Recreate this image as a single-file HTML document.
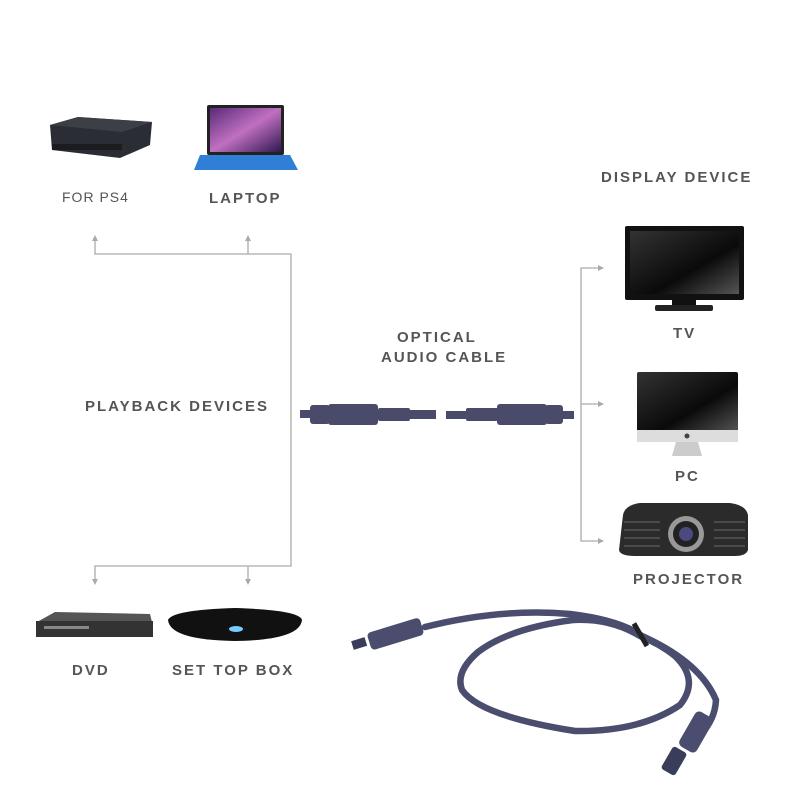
<!DOCTYPE html>
<html><head><meta charset="utf-8"><style>
html,body{margin:0;padding:0;background:#fff}
svg{display:block}
text{font-family:"Liberation Sans",sans-serif;font-weight:bold;fill:#555;letter-spacing:2px}
</style></head><body>
<svg width="800" height="800" viewBox="0 0 800 800" xmlns="http://www.w3.org/2000/svg">
<defs>
<linearGradient id="scr" x1="0" y1="0" x2="1" y2="1"><stop offset="0" stop-color="#333"/><stop offset="0.6" stop-color="#0a0a0a"/><stop offset="1" stop-color="#555"/></linearGradient>
<linearGradient id="lap" x1="0" y1="0" x2="1" y2="1"><stop offset="0" stop-color="#5a2a7a"/><stop offset="0.5" stop-color="#c070c0"/><stop offset="1" stop-color="#301850"/></linearGradient>
</defs>
<g stroke="#aaa" stroke-width="1.3" fill="none">
<path d="M95 240V254H291V566H95V580"/>
<path d="M248 240V254M248 566V580"/>
<path d="M603 268H581V541H603M581 404H603"/>
</g>
<g fill="#aaa">
<path d="M92 241L95 235L98 241Z"/><path d="M245 241L248 235L251 241Z"/>
<path d="M92 579L95 585L98 579Z"/><path d="M245 579L248 585L251 579Z"/>
<path d="M598 265L604 268L598 271Z"/><path d="M598 401L604 404L598 407Z"/><path d="M598 538L604 541L598 544Z"/>
</g>
<!-- PS4 -->
<polygon points="50,125 78,117 152,122 150,145 120,158 52,150" fill="#2a2d33"/>
<polygon points="50,125 78,117 152,122 122,132" fill="#3c3f46"/>
<rect x="52" y="144" width="70" height="6" fill="#1a1c20"/>
<!-- laptop -->
<rect x="207" y="105" width="77" height="50" rx="2" fill="#222"/>
<rect x="210" y="108" width="71" height="44" fill="url(#lap)"/>
<polygon points="200,155 290,155 298,170 194,170" fill="#2f7fd6"/>
<!-- TV -->
<rect x="625" y="226" width="119" height="74" rx="2" fill="#111"/>
<rect x="630" y="231" width="109" height="63" fill="url(#scr)"/>
<rect x="672" y="300" width="24" height="6" fill="#111"/>
<rect x="655" y="305" width="58" height="6" rx="2" fill="#222"/>
<!-- PC -->
<rect x="637" y="372" width="101" height="60" rx="2" fill="url(#scr)"/>
<rect x="637" y="430" width="101" height="12" fill="#ddd"/>
<circle cx="687" cy="436" r="2.5" fill="#444"/>
<polygon points="676,442 698,442 702,456 672,456" fill="#ccc"/>
<!-- projector -->
<path d="M623 515Q625 505 640 503H730Q746 505 748 515V550Q746 556 735 556H635Q620 556 619 550Z" fill="#2b2b2b"/>
<g stroke="#555" stroke-width="1.5"><path d="M624 522H660M624 530H660M624 538H660M624 546H660M714 522H745M714 530H745M714 538H745M714 546H745"/></g>
<circle cx="686" cy="534" r="18" fill="#999"/><circle cx="686" cy="534" r="13" fill="#222"/><circle cx="686" cy="534" r="7" fill="#4a4a80"/>
<!-- DVD -->
<polygon points="37,622 55,612 150,614 152,622" fill="#555"/>
<rect x="36" y="621" width="117" height="16" fill="#333"/>
<rect x="44" y="626" width="45" height="3" fill="#888"/>
<!-- STB -->
<path d="M168 620Q172 610 235 608Q300 610 302 620Q300 640 235 641Q170 640 168 620Z" fill="#111"/>
<ellipse cx="236" cy="629" rx="7" ry="3" fill="#7cf"/>
<!-- middle cable -->
<g fill="#4a4a6a">
<rect x="300" y="410" width="12" height="8"/>
<rect x="310" y="405" width="20" height="19" rx="3"/>
<rect x="328" y="404" width="50" height="21" rx="3"/>
<rect x="378" y="408" width="32" height="13" rx="2"/>
<rect x="410" y="410" width="26" height="9"/>
<rect x="446" y="411" width="20" height="8"/>
<rect x="466" y="408" width="32" height="13" rx="2"/>
<rect x="497" y="404" width="50" height="21" rx="3"/>
<rect x="545" y="405" width="18" height="19" rx="3"/>
<rect x="562" y="411" width="12" height="8"/>
</g>
<!-- coiled cable -->
<g fill="none" stroke="#4a4d6e" stroke-width="6.5" stroke-linecap="round">
<path d="M425 627Q500 608 570 614Q620 620 642 636Q700 662 716 700Q715 720 700 735"/>
<path d="M640 636Q610 618 573 620Q510 628 478 652Q455 672 462 690Q480 716 575 731Q640 732 680 705Q700 680 675 656Q660 644 640 636"/>
</g>
<rect x="368" y="625" width="55" height="18" rx="4" transform="rotate(-17 395 634)" fill="#4a4d6e"/>
<rect x="352" y="639" width="14" height="9" transform="rotate(-17 359 643)" fill="#3a3d5a"/>
<rect x="686" y="712" width="20" height="40" rx="5" transform="rotate(30 696 732)" fill="#4a4d6e"/>
<rect x="666" y="748" width="16" height="26" rx="3" transform="rotate(30 674 761)" fill="#3a3d5a"/>
<rect x="638" y="622" width="5" height="26" fill="#222" transform="rotate(-30 640 635)"/>
<!-- labels -->
<text x="62" y="202" font-size="14" style="font-weight:normal;letter-spacing:1px">FOR PS4</text>
<text x="209" y="203" font-size="15">LAPTOP</text>
<text x="601" y="182" font-size="15">DISPLAY DEVICE</text>
<text x="673" y="338" font-size="15">TV</text>
<text x="675" y="481" font-size="15">PC</text>
<text x="633" y="584" font-size="15">PROJECTOR</text>
<text x="397" y="342" font-size="15">OPTICAL</text>
<text x="381" y="362" font-size="15">AUDIO CABLE</text>
<text x="85" y="411" font-size="15">PLAYBACK DEVICES</text>
<text x="72" y="675" font-size="15">DVD</text>
<text x="172" y="675" font-size="15">SET TOP BOX</text>
</svg>
</body></html>
